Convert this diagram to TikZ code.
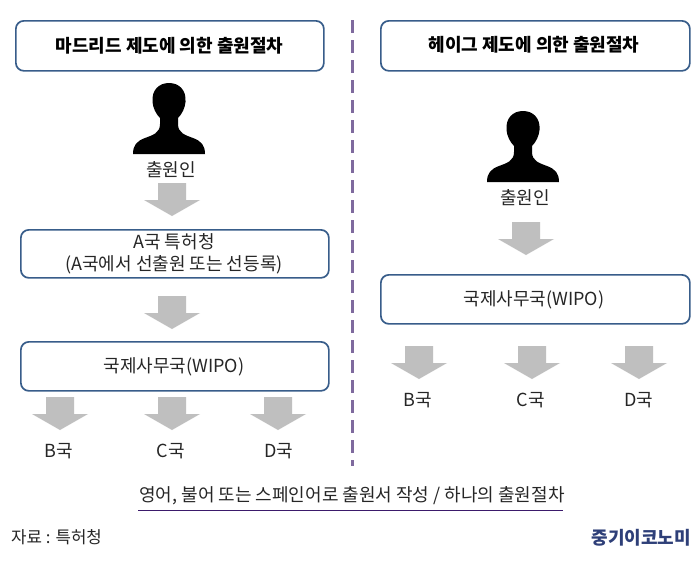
\documentclass[tikz,border=0pt]{standalone}
\usepackage{fontspec}
\setmainfont{Noto Sans CJK KR}
\definecolor{boxline}{HTML}{385D8A}
\definecolor{arrowgray}{HTML}{BFBFBF}
\definecolor{divider}{HTML}{7F6A9E}
\definecolor{rulecol}{HTML}{3B1A6B}
\definecolor{logocol}{HTML}{2E3F78}
\tikzset{
  procbox/.style={draw=boxline,line width=1.7pt,rounded corners=8pt,fill=white,inner sep=0pt,anchor=north west},
  label/.style={inner sep=0pt,text=black!85,font=\fontsize{18}{22}\selectfont,align=center},
  titlelabel/.style={inner sep=0pt,text=black,font=\fontsize{18}{22}\selectfont\bfseries},
  bigarrow/.pic={\fill[arrowgray] (-14,0)--(14,0)--(14,17)--(28,17)--(0,33)--(-28,17)--(-14,17)--cycle;},
  person/.pic={\fill[black] (-36,0) .. controls (-36,-9) and (-32,-13) .. (-24,-16)
     .. controls (-16,-19) and (-9,-21) .. (-9,-30) -- (-9,-36)
     .. controls (-13,-40) and (-16,-46) .. (-16.5,-52)
     .. controls (-17.5,-64) and (-10,-71) .. (0,-71)
     .. controls (10,-71) and (17.5,-64) .. (16.5,-52)
     .. controls (16,-46) and (13,-40) .. (9,-36)
     -- (9,-30) .. controls (9,-21) and (16,-19) .. (24,-16)
     .. controls (32,-13) and (36,-9) .. (36,0) -- cycle;}
}
\begin{document}
\begin{tikzpicture}[x=1pt,y=-1pt]
\useasboundingbox (0,0) rectangle (700,563);
\fill[white] (0,0) rectangle (700,563);
% boxes
\node[procbox,minimum width=308pt,minimum height=50pt] (ltitle) at (15,20) {};
\node[titlelabel] (ltitletext) at (169.5,46) {마드리드 제도에 의한 출원절차};
\node[procbox,minimum width=309pt,minimum height=50pt] (rtitle) at (380,20) {};
\node[titlelabel] (rtitletext) at (534,45) {헤이그 제도에 의한 출원절차};
\node[procbox,minimum width=308pt,minimum height=48pt] (abox) at (20,229) {};
\node[label] (atext) at (174,253.5) {A국 특허청\\(A국에서 선출원 또는 선등록)};
\node[procbox,minimum width=308pt,minimum height=49pt] (lwipo) at (20,341) {};
\node[label] (lwipotext) at (174,366.5) {국제사무국(WIPO)};
\node[procbox,minimum width=309pt,minimum height=49pt] (rwipo) at (380,274) {};
\node[label] (rwipotext) at (534,299.5) {국제사무국(WIPO)};
% persons
\pic at (169,154) {person};
\pic at (523,182) {person};
\node[label] (lapp) at (171,169.5) {출원인};
\node[label] (rapp) at (525,198) {출원인};
% arrows
\pic at (172,183) {bigarrow};
\pic at (172,296) {bigarrow};
\pic at (526,222) {bigarrow};
\pic at (60,397) {bigarrow};
\pic at (172,397) {bigarrow};
\pic at (278,397) {bigarrow};
\pic at (419,346) {bigarrow};
\pic at (532,346) {bigarrow};
\pic at (639,346) {bigarrow};
% countries
\node[label] (lb) at (59,451) {B국};
\node[label] (lc) at (171,451) {C국};
\node[label] (ld) at (279,451) {D국};
\node[label] (rb) at (418,400) {B국};
\node[label] (rc) at (531,400) {C국};
\node[label] (rd) at (639,400) {D국};
% divider
\coordinate (dtop) at (352,20);
\coordinate (dbot) at (352,466);
\draw[divider,line width=3pt,dash pattern=on 13pt off 7pt] (dtop) -- (dbot);
% bottom
\node[label] (note) at (352,496) {영어, 불어 또는 스페인어로 출원서 작성 / 하나의 출원절차};
\coordinate (rl) at (138,510.5);
\coordinate (rr) at (563,510.5);
\draw[rulecol,line width=1pt] (rl) -- (rr);
\node[label,anchor=west,font=\fontsize{16.8}{20}\selectfont] (source) at (11,537) {자료 : 특허청};
\node[inner sep=0pt,anchor=east,text=logocol,font=\fontsize{18}{22}\selectfont\bfseries] (logo) at (691,538) {중기이코노미};
\end{tikzpicture}
\end{document}
